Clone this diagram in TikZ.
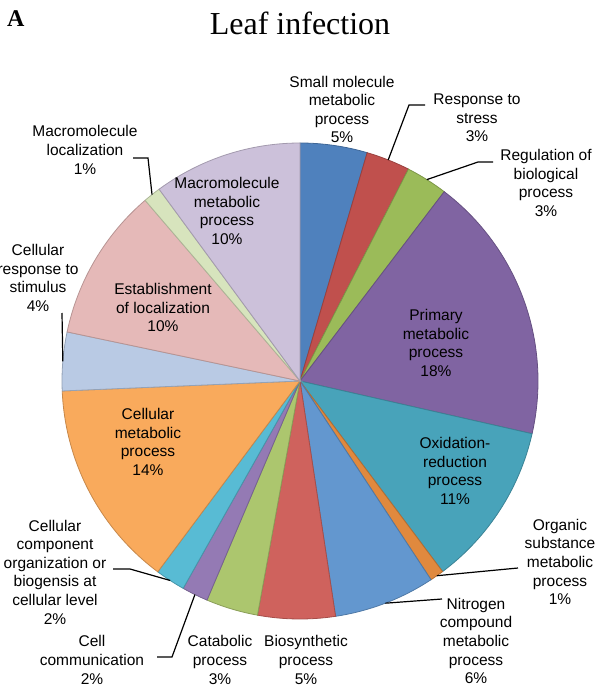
\documentclass[tikz,border=0pt]{standalone}
\usepackage{fontspec}
\setmainfont{Liberation Sans}
\newfontfamily\ttlfont{Liberation Serif}
\usetikzlibrary{calc}
% slice colours
\definecolor{cSml}{RGB}{79,129,189}
\definecolor{cRsp}{RGB}{192,80,77}
\definecolor{cReg}{RGB}{155,187,89}
\definecolor{cPri}{RGB}{128,100,162}
\definecolor{cOxi}{RGB}{72,163,186}
\definecolor{cOrg}{RGB}{224,137,62}
\definecolor{cNit}{RGB}{99,151,207}
\definecolor{cBio}{RGB}{207,98,93}
\definecolor{cCat}{RGB}{172,198,110}
\definecolor{cCom}{RGB}{148,122,180}
\definecolor{cCmp}{RGB}{88,187,212}
\definecolor{cCme}{RGB}{249,170,92}
\definecolor{cCrs}{RGB}{185,202,228}
\definecolor{cEst}{RGB}{229,185,184}
\definecolor{cMlo}{RGB}{215,228,189}
\definecolor{cMme}{RGB}{204,193,218}
\begin{document}
\begin{tikzpicture}[x=1pt,y=-1pt,
    slice/.style={line width=0.8pt},
    lbl/.style={align=center,inner sep=0pt,font=\fontsize{15.5}{18.6}\selectfont},
    leader/.style={line width=1.2pt,black}]
    \useasboundingbox (0,0) rectangle (600,690);
    % Title
    \node[anchor=base west,inner sep=0pt,font=\ttlfont\bfseries\fontsize{24}{28}\selectfont] (tag) at (7,27) {A};
    \node[anchor=base,inner sep=0pt,font=\ttlfont\fontsize{32}{36}\selectfont] (ttl) at (300,35) {Leaf infection};
    % Pie
    \coordinate (ctr) at (300,381);
    \foreach \n/\a/\b/\c in {sml/0/16.4/cSml, rsp/16.4/27.1/cRsp, reg/27.1/37.3/cReg,
        pri/37.3/102.8/cPri, oxi/102.8/143.2/cOxi, org/143.2/146.6/cOrg,
        nit/146.6/171.4/cNit, bio/171.4/190.3/cBio, cat/190.3/203/cCat,
        com/203/209.4/cCom, cmp/209.4/216.7/cCmp, cme/216.7/267.6/cCme,
        crs/267.6/281.9/cCrs, est/281.9/319.4/cEst, mlo/319.4/323.7/cMlo,
        mme/323.7/360/cMme} {
        \filldraw[slice,fill=\c,draw=\c!80!black] (ctr) -- ++(\a-90:238)
            arc[start angle=\a-90,end angle=\b-90,radius=238] -- cycle;
        \coordinate (p-\n) at ($(ctr)+({(\a+\b)/2-90}:238)$);
    }
    % Labels
    \node[lbl] (l-sml) at (342,109.5) {Small molecule\\metabolic\\process\\5\%};
    \node[lbl] (l-rsp) at (477,118) {Response to\\stress\\3\%};
    \node[lbl] (l-reg) at (546,183) {Regulation of\\biological\\process\\3\%};
    \node[lbl] (l-pri) at (436,343) {Primary\\metabolic\\process\\18\%};
    \node[lbl] (l-oxi) at (455,471) {Oxidation-\\reduction\\process\\11\%};
    \node[lbl] (l-org) at (560,562) {Organic\\substance\\metabolic\\process\\1\%};
    \node[lbl] (l-nit) at (476,641) {Nitrogen\\compound\\metabolic\\process\\6\%};
    \node[lbl] (l-bio) at (306,660) {Biosynthetic\\process\\5\%};
    \node[lbl] (l-cat) at (220,660) {Catabolic\\process\\3\%};
    \node[lbl] (l-com) at (92,660) {Cell\\communication\\2\%};
    \node[lbl] (l-cmp) at (55,572) {Cellular\\component\\organization or\\biogensis at\\cellular level\\2\%};
    \node[lbl] (l-cme) at (148,442) {Cellular\\metabolic\\process\\14\%};
    \node[lbl] (l-crs) at (38,278) {Cellular\\response to\\stimulus\\4\%};
    \node[lbl] (l-est) at (163,307.5) {Establishment\\of localization\\10\%};
    \node[lbl] (l-mlo) at (85,150) {Macromolecule\\localization\\1\%};
    \node[lbl] (l-mme) at (227,211) {Macromolecule\\metabolic\\process\\10\%};
    % Leader lines
    \coordinate (b-rsp) at (409,105);
    \coordinate (e-rsp) at (425,105);
    \coordinate (b-reg) at (478,162);
    \coordinate (e-reg) at (493,162);
    \coordinate (e-org) at (518,568);
    \coordinate (e-nit) at (442,599);
    \coordinate (b-com) at (172,657);
    \coordinate (e-com) at (157,657);
    \coordinate (b-cmp) at (130,569);
    \coordinate (e-cmp) at (113,569);
    \coordinate (e-crs) at (62,313);
    \coordinate (b-mlo) at (148,158);
    \coordinate (e-mlo) at (133,158);
    \draw[leader] (p-rsp) -- (b-rsp) -- (e-rsp);
    \draw[leader] (p-reg) -- (b-reg) -- (e-reg);
    \draw[leader] (p-org) -- (e-org);
    \draw[leader] (p-nit) -- (e-nit);
    \draw[leader] (p-com) -- (b-com) -- (e-com);
    \draw[leader] (p-cmp) -- (b-cmp) -- (e-cmp);
    \draw[leader] (p-crs) -- (e-crs);
    \draw[leader] (p-mlo) -- (b-mlo) -- (e-mlo);
\end{tikzpicture}
\end{document}
